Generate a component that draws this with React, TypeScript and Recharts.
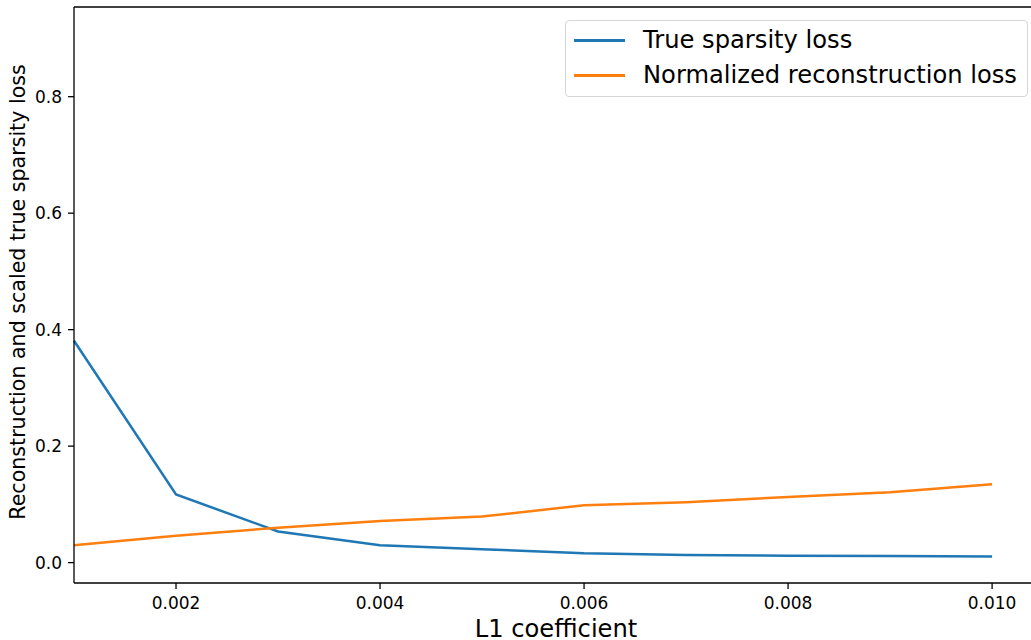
import React from 'react';
import {LineChart, Line, XAxis, YAxis, Legend, ReferenceLine} from 'recharts';

const l1Coefficients = [0.001, 0.002, 0.003, 0.004, 0.005, 0.006, 0.007, 0.008, 0.009, 0.01];
const trueSparsityLoss = [0.381, 0.117, 0.0535, 0.030, 0.023, 0.016, 0.013, 0.012, 0.0115, 0.0103];
const normalizedReconLoss = [0.030, 0.046, 0.060, 0.0716, 0.079, 0.0985, 0.1037, 0.1127, 0.121, 0.1346];
const xTicks = [0.002, 0.004, 0.006, 0.008, 0.01];
const yTicks = [0, 0.2, 0.4, 0.6, 0.8];
const xDomain = [0.001, 0.01045];
const yDomain = [-0.035, 0.954];

const seriesNames = ['True sparsity loss', 'Normalized reconstruction loss'];
const colors = ['#1f77b4', '#ff7f0e'];

const font = '"DejaVu Sans", sans-serif';

const data = l1Coefficients.map((x, i) => ({
    x,
    sparsity: trueSparsityLoss[i],
    recon: normalizedReconLoss[i],
}));

const LegendBox = () => (
    <div style={{
        width: 461, height: 75, border: '1px solid #d6d6d6', borderRadius: 4,
        background: 'rgba(255,255,255,0.8)', fontFamily: font, fontSize: 24.2, color: '#000',
        boxSizing: 'content-box',
    }}>
        {seriesNames.map((name, i) => (
            <div key={name} style={{position: 'relative', height: 35, marginTop: i === 0 ? 2 : 0}}>
                <div style={{position: 'absolute', left: 8, top: 16, width: 51, height: 2.5, background: colors[i]}}/>
                <div style={{position: 'absolute', left: 77, top: 0, lineHeight: '35px', whiteSpace: 'nowrap'}}>{name}</div>
            </div>
        ))}
    </div>
);

const App = () => {
    return (
        <div style={{position: 'absolute', left: 0, top: 0, width: 1031, height: 640, overflow: 'hidden', background: '#fff'}}>
            <LineChart width={1045} height={640} data={data} margin={{top: 7, right: 7, bottom: 0, left: 0}}>
                <XAxis
                    dataKey="x"
                    type="number"
                    domain={xDomain}
                    ticks={xTicks}
                    tickFormatter={(v: number) => v.toFixed(3)}
                    height={57}
                    tickSize={6}
                    tickMargin={8}
                    axisLine={{stroke: '#000', strokeWidth: 1.3}}
                    tickLine={{stroke: '#000', strokeWidth: 1.3}}
                    tick={{fontSize: 17, fill: '#000', fontFamily: font}}
                />
                <YAxis
                    type="number"
                    domain={yDomain}
                    ticks={yTicks}
                    tickFormatter={(v: number) => v.toFixed(1)}
                    width={74}
                    tickSize={6}
                    tickMargin={6}
                    axisLine={{stroke: '#000', strokeWidth: 1.3}}
                    tickLine={{stroke: '#000', strokeWidth: 1.3}}
                    tick={{fontSize: 17, fill: '#000', fontFamily: font}}
                />
                {/* top spine of the axes frame */}
                <ReferenceLine y={yDomain[1]} stroke="#000" strokeWidth={1.3}/>
                <Line dataKey="sparsity" name={seriesNames[0]} stroke={colors[0]} strokeWidth={2.5} dot={false} isAnimationActive={false}/>
                <Line dataKey="recon" name={seriesNames[1]} stroke={colors[1]} strokeWidth={2.5} dot={false} isAnimationActive={false}/>
                <Legend
                    layout="vertical"
                    align="center"
                    verticalAlign="middle"
                    wrapperStyle={{position: 'absolute', left: 565, top: 20, width: 463, height: 77}}
                    content={() => <LegendBox/>}
                />
            </LineChart>
            <div style={{
                position: 'absolute', left: 17.5, top: 292, transform: 'translate(-50%, -50%) rotate(-90deg)',
                fontFamily: font, fontSize: 20.6, lineHeight: 1, whiteSpace: 'nowrap', color: '#000',
            }}>
                Reconstruction and scaled true sparsity loss
            </div>
            <div style={{
                position: 'absolute', left: 556, top: 619.2, transform: 'translateX(-50%)',
                fontFamily: font, fontSize: 24.2, lineHeight: 0.85, whiteSpace: 'nowrap', color: '#000',
            }}>
                L1 coefficient
            </div>
        </div>
    );
};

export default App;
